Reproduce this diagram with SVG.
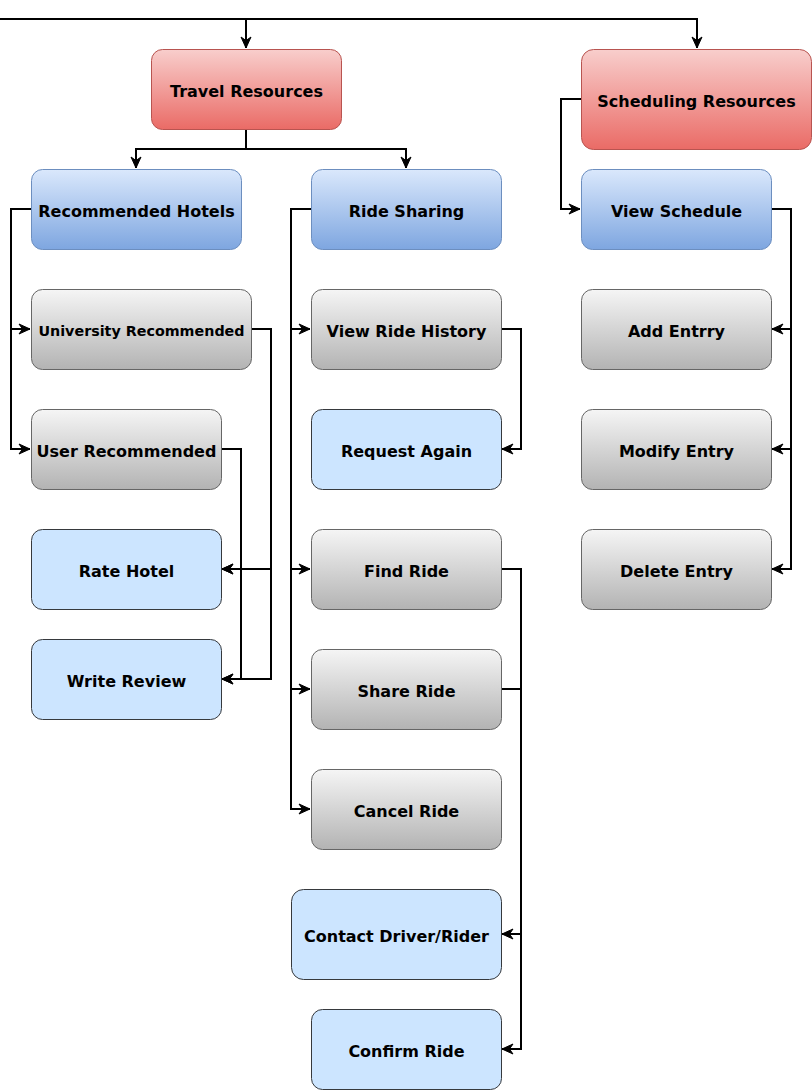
<svg xmlns="http://www.w3.org/2000/svg" width="812" height="1090" viewBox="0 0 812 1090">
<style>
.t{font-family:"DejaVu Sans",Verdana,sans-serif;font-weight:bold;font-size:16px;fill:#000;text-anchor:middle;dominant-baseline:central}
.s{font-size:14.3px}
.red{fill:url(#gRed);stroke:#b85450;stroke-width:1}
.blue{fill:url(#gBlue);stroke:#6c8ebf;stroke-width:1}
.gray{fill:url(#gGray);stroke:#666666;stroke-width:1}
.lb{fill:#cce5ff;stroke:#36393d;stroke-width:1}
.c{fill:none;stroke:#000;stroke-width:2}
.ca{fill:none;stroke:#000;stroke-width:2;marker-end:url(#arr)}
</style>
<defs>
<linearGradient id="gRed" x1="0" y1="0" x2="0" y2="1"><stop offset="0" stop-color="#f8cecc"/><stop offset="1" stop-color="#ea6b66"/></linearGradient>
<linearGradient id="gBlue" x1="0" y1="0" x2="0" y2="1"><stop offset="0" stop-color="#dae8fc"/><stop offset="1" stop-color="#7ea6e0"/></linearGradient>
<linearGradient id="gGray" x1="0" y1="0" x2="0" y2="1"><stop offset="0" stop-color="#f5f5f5"/><stop offset="1" stop-color="#b3b3b3"/></linearGradient>
<marker id="arr" markerUnits="userSpaceOnUse" markerWidth="14" markerHeight="14" viewBox="0 0 14 14" refX="12" refY="7" orient="auto">
<path d="M1,2 L12,7 L1,12 L4.5,7 Z" fill="#000" stroke="#000" stroke-width="1"/>
</marker>
</defs>
<g id="connectors">
<path class="ca" d="M0,19 H246 V48"/>
<path class="ca" d="M0,19 H697 V48"/>
<path class="ca" d="M246,129 V149 H136 V168"/>
<path class="ca" d="M246,129 V149 H406 V168"/>
<path class="ca" d="M581,99 H561 V209 H580"/>
<path class="ca" d="M31,209 H11 V329 H30"/>
<path class="ca" d="M31,209 H11 V449 H30"/>
<path class="ca" d="M251,329 H271 V569 H222"/>
<path class="ca" d="M251,329 H271 V679 H222"/>
<path class="ca" d="M221,449 H241 V569 H222"/>
<path class="ca" d="M221,449 H241 V679 H222"/>
<path class="ca" d="M311,209 H291 V329 H310"/>
<path class="ca" d="M311,209 H291 V569 H310"/>
<path class="ca" d="M311,209 H291 V689 H310"/>
<path class="ca" d="M311,209 H291 V809 H310"/>
<path class="ca" d="M501,329 H521 V449 H502"/>
<path class="ca" d="M501,569 H521 V934 H502"/>
<path class="ca" d="M501,569 H521 V1049 H502"/>
<path class="c" d="M501,689 H521"/>
<path class="ca" d="M771,209 H791 V329 H772"/>
<path class="ca" d="M771,209 H791 V449 H772"/>
<path class="ca" d="M771,209 H791 V569 H772"/>
</g>
<g id="travel-resources"><rect class="red" x="151.5" y="49.5" width="190" height="80" rx="11"/><text class="t" x="246.5" y="91">Travel Resources</text></g>
<g id="scheduling-resources"><rect class="red" x="581.5" y="49.5" width="230" height="100" rx="12"/><text class="t" x="696.5" y="101">Scheduling Resources</text></g>
<g id="recommended-hotels"><rect class="blue" x="31.5" y="169.5" width="210" height="80" rx="11"/><text class="t" x="136.5" y="211">Recommended Hotels</text></g>
<g id="ride-sharing"><rect class="blue" x="311.5" y="169.5" width="190" height="80" rx="11"/><text class="t" x="406.5" y="211">Ride Sharing</text></g>
<g id="view-schedule"><rect class="blue" x="581.5" y="169.5" width="190" height="80" rx="11"/><text class="t" x="676.5" y="211">View Schedule</text></g>
<g id="university-recommended"><rect class="gray" x="31.5" y="289.5" width="220" height="80" rx="11"/><text class="t s" x="141.5" y="331">University Recommended</text></g>
<g id="user-recommended"><rect class="gray" x="31.5" y="409.5" width="190" height="80" rx="11"/><text class="t" x="126.5" y="451">User Recommended</text></g>
<g id="rate-hotel"><rect class="lb" x="31.5" y="529.5" width="190" height="80" rx="11"/><text class="t" x="126.5" y="571">Rate Hotel</text></g>
<g id="write-review"><rect class="lb" x="31.5" y="639.5" width="190" height="80" rx="11"/><text class="t" x="126.5" y="681">Write Review</text></g>
<g id="view-ride-history"><rect class="gray" x="311.5" y="289.5" width="190" height="80" rx="11"/><text class="t" x="406.5" y="331">View Ride History</text></g>
<g id="request-again"><rect class="lb" x="311.5" y="409.5" width="190" height="80" rx="11"/><text class="t" x="406.5" y="451">Request Again</text></g>
<g id="find-ride"><rect class="gray" x="311.5" y="529.5" width="190" height="80" rx="11"/><text class="t" x="406.5" y="571">Find Ride</text></g>
<g id="share-ride"><rect class="gray" x="311.5" y="649.5" width="190" height="80" rx="11"/><text class="t" x="406.5" y="691">Share Ride</text></g>
<g id="cancel-ride"><rect class="gray" x="311.5" y="769.5" width="190" height="80" rx="11"/><text class="t" x="406.5" y="811">Cancel Ride</text></g>
<g id="contact-driver-rider"><rect class="lb" x="291.5" y="889.5" width="210" height="90" rx="12"/><text class="t" x="396.5" y="936">Contact Driver/Rider</text></g>
<g id="confirm-ride"><rect class="lb" x="311.5" y="1009.5" width="190" height="80" rx="11"/><text class="t" x="406.5" y="1051">Confirm Ride</text></g>
<g id="add-entrry"><rect class="gray" x="581.5" y="289.5" width="190" height="80" rx="11"/><text class="t" x="676.5" y="331">Add Entrry</text></g>
<g id="modify-entry"><rect class="gray" x="581.5" y="409.5" width="190" height="80" rx="11"/><text class="t" x="676.5" y="451">Modify Entry</text></g>
<g id="delete-entry"><rect class="gray" x="581.5" y="529.5" width="190" height="80" rx="11"/><text class="t" x="676.5" y="571">Delete Entry</text></g>
</svg>
